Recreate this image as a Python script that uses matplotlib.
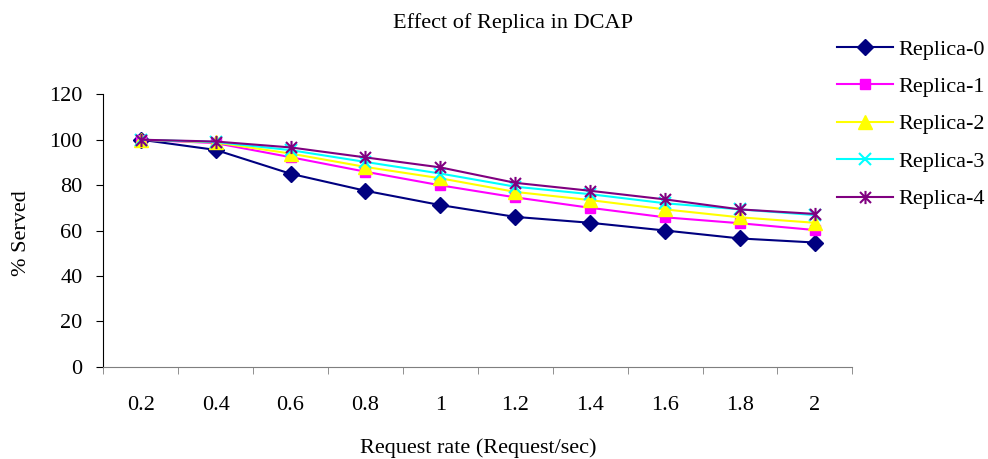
import numpy as np
import matplotlib
matplotlib.use('Agg')
import matplotlib.pyplot as plt
from matplotlib.path import Path

plt.rcParams['font.family'] = ['Liberation Serif', 'DejaVu Serif']

# Dados
taxas = ['0.2', '0.4', '0.6', '0.8', '1', '1.2', '1.4', '1.6', '1.8', '2']
replica0 = [100, 95.5, 85, 77.5, 71.2, 66, 63.4, 60, 56.5, 54.7]
replica1 = [100, 98.5, 92.3, 85.9, 79.9, 74.6, 70, 65.8, 63.2, 60.2]
replica2 = [100, 98.8, 93.9, 88, 83, 77, 73.4, 69.3, 65.8, 63.4]
replica3 = [100, 99, 95.4, 90.2, 85.1, 79.3, 76, 72, 69.3, 66.8]
replica4 = [100, 99.2, 96.6, 92.2, 87.8, 81, 77.5, 73.7, 69.3, 67.3]
nomes = ['Replica-0', 'Replica-1', 'Replica-2', 'Replica-3', 'Replica-4']

# marcador estrela do Excel: X com traço vertical
estrela = Path([(-1, -1), (1, 1), (-1, 1), (1, -1), (0, -1.2), (0, 1.2)],
               [Path.MOVETO, Path.LINETO, Path.MOVETO, Path.LINETO, Path.MOVETO, Path.LINETO])

estilos = [
    dict(color='#000080', marker='D', markersize=8.5),
    dict(color='#FF00FF', marker='s', markersize=7.5),
    dict(color='#FFFF00', marker='^', markersize=9.5),
    dict(color='#00FFFF', marker='x', markersize=8.5, markeredgewidth=1.5),
    dict(color='#800080', marker=estrela, markersize=9.5, markeredgewidth=1.5),
]

fs = 16

fig = plt.figure(figsize=(9.88, 4.59), dpi=100)
ax = fig.add_axes([103.3 / 988, 1 - 366.7 / 459, 749 / 988, 272.4 / 459])

x = np.arange(len(taxas))
for serie, nome, est in zip([replica0, replica1, replica2, replica3, replica4], nomes, estilos):
    ax.plot(x, serie, linewidth=1.5, label=nome, **est)

ax.set_xlim(-0.5, len(taxas) - 0.5)
ax.set_ylim(0, 120)
ax.set_yticks(range(0, 121, 20))
ax.set_xticks(x)
ax.set_xticklabels(taxas)
ax.set_xticks(np.arange(-0.5, len(taxas)), minor=True)
ax.tick_params(axis='x', which='major', length=0, pad=21, labelsize=fs)
ax.tick_params(axis='x', which='minor', length=5, direction='out', color='#7f7f7f')
ax.tick_params(axis='y', length=5, direction='out', pad=10, labelsize=fs)

for lado in ['top', 'right']:
    ax.spines[lado].set_visible(False)
ax.spines['bottom'].set_color('#7f7f7f')
ax.spines['left'].set_color('black')

fig.text(513 / 988, 1 - 28 / 459, 'Effect of Replica in DCAP', ha='center', va='baseline', fontsize=fs)
fig.text(478 / 988, 1 - 453 / 459, 'Request rate (Request/sec)', ha='center', va='baseline', fontsize=fs)
fig.text(21 / 988, 1 - 233 / 459, '% Served', ha='center', va='center', rotation=90, fontsize=fs)

fig.legend(loc='upper left', bbox_to_anchor=(837 / 988, 1 - 39 / 459), frameon=False,
           fontsize=fs, handlelength=2.5, handletextpad=0.27, labelspacing=0.76, borderpad=0,
           borderaxespad=0)

fig.savefig('out.png', dpi=100)
